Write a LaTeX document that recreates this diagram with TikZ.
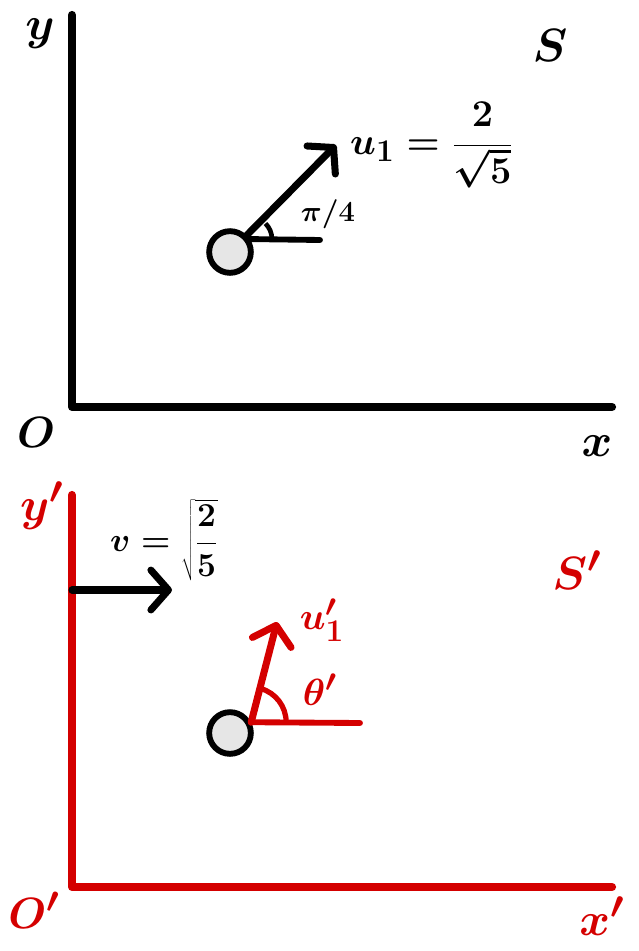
\documentclass[tikz,border=0pt]{standalone}
\usetikzlibrary{arrows.meta,calc}
\definecolor{myred}{RGB}{212,0,0}
\definecolor{ballgray}{RGB}{230,230,230}
\begin{document}
\boldmath
\begin{tikzpicture}[x=0.03cm,y=-0.03cm,
  axisline/.style={line width=7pt, line cap=round, line join=round},
  vec/.style={line width=6pt, line cap=round,
    -{Straight Barb[round,length=15pt,width=34pt]}},
  thinline/.style={line width=5pt, line cap=round},
  ball/.style={circle, draw=black, fill=ballgray, line width=5pt, minimum size=1.25cm, inner sep=0pt},
  lbl/.style={font=\Huge, inner sep=0pt},
  smalllbl/.style={font=\huge, inner sep=0pt}]
\useasboundingbox (0,0) rectangle (638,951);
% ---------- frame S ----------
\coordinate (Y1) at (72,15);
\coordinate (O1) at (72,407);
\coordinate (X1) at (612,407);
\draw[axisline] (Y1) -- (O1) -- (X1);
\node[lbl] (ly) at (40,34) {\scalebox{1.6}{$y$}};
\node[lbl] (lS) at (550,45) {\scalebox{1.6}{$S$}};
\node[lbl] (lO) at (36,432) {\scalebox{1.5}{$O$}};
\node[lbl] (lx) at (597,446) {\scalebox{1.6}{$x$}};
\node[ball] (b1) at (230,252) {};
\coordinate (u1tip) at (336,145);
\coordinate (h1) at (320,240);
\draw[thinline] (b1.33) -- (h1);
\draw[vec] (b1.45) -- (u1tip);
\draw[line width=4pt] ($(b1.33)+(22,0)$) arc[start angle=0,end angle=45,radius=0.66cm];
\node[smalllbl] (lpi) at (328,214) {\scalebox{1.2}{$\pi/4$}};
\node[lbl,anchor=west] (lu1) at (350,145) {\scalebox{1.3}{$u_1=\displaystyle\frac{2}{\sqrt{5}}$}};
% ---------- frame S' ----------
\coordinate (Y2) at (72,495);
\coordinate (O2) at (72,887);
\coordinate (X2) at (612,887);
\draw[axisline,myred] (Y2) -- (O2) -- (X2);
\node[lbl,myred] (ly2) at (42,506) {\scalebox{1.6}{$y'$}};
\node[lbl,myred] (lS2) at (577,570) {\scalebox{1.6}{$S'$}};
\node[lbl,myred] (lO2) at (34,910) {\scalebox{1.5}{$O'$}};
\node[lbl,myred] (lx2) at (602,916) {\scalebox{1.6}{$x'$}};
\coordinate (vstart) at (72,590);
\coordinate (vend) at (172,590);
\draw[vec] (vstart) -- (vend);
\node[lbl,anchor=west] (lv) at (110,540) {\scalebox{1.15}{$v=\sqrt{\displaystyle\frac{2}{5}}$}};
\node[ball] (b2) at (230,733) {};
\coordinate (u2tip) at (277,622);
\coordinate (h2) at (360,723);
\draw[thinline,myred] (b2.27) -- (h2);
\draw[vec,myred] (b2.27) -- (u2tip);
\draw[line width=4.5pt,myred] ($(b2.27)+(35,0)$) arc[start angle=0,end angle=74,radius=1.05cm];
\node[lbl,myred] (lu2) at (322,620) {\scalebox{1.3}{$u_1'$}};
\node[lbl,myred] (lth) at (320,690) {\scalebox{1.3}{$\theta'$}};
\end{tikzpicture}
\end{document}
